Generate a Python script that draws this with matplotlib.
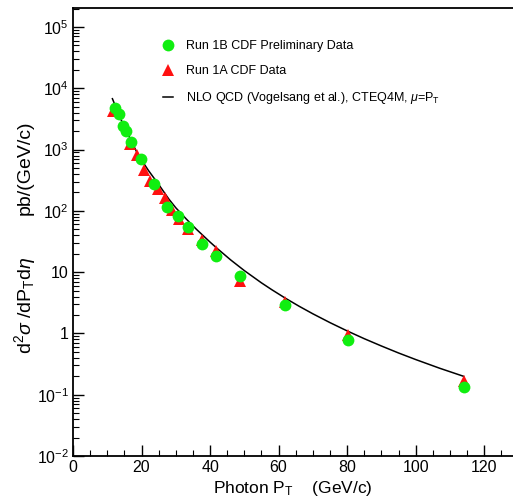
import matplotlib
matplotlib.use("Agg")
import matplotlib.pyplot as plt
from matplotlib.ticker import FixedLocator, FixedFormatter, MultipleLocator, NullFormatter
import numpy as np

plt.rcParams['font.family'] = ['Liberation Sans', 'DejaVu Sans']
plt.rcParams['mathtext.fontset'] = 'custom'
plt.rcParams['mathtext.rm'] = 'Liberation Sans'
plt.rcParams['mathtext.it'] = 'Liberation Sans:italic'
plt.rcParams['mathtext.bf'] = 'Liberation Sans:bold'

# Run 1B CDF Preliminary Data
run1b_pt = [12.4, 13.4, 14.5, 15.4, 16.8, 19.7, 23.6, 27.5, 30.7, 33.7, 37.7, 41.7, 48.6, 62.0, 80.2, 114.0]
run1b_xs = [4800, 3800, 2400, 2000, 1340, 690, 275, 117, 81, 54, 29, 18.2, 8.7, 2.95, 0.79, 0.136]

# Run 1A CDF Data
run1a_pt = [11.6, 16.5, 18.8, 20.8, 22.6, 24.7, 26.8, 28.8, 30.8, 33.7, 37.6, 41.7, 48.6, 62.0, 80.2, 114.0]
run1a_xs = [4300, 1250, 830, 460, 310, 224, 162, 105, 74, 50, 33, 22, 7.2, 3.2, 0.95, 0.166]

# NLO QCD theory curve (log10 of cross section)
nlo_pt = [11.5, 14, 17, 18.6, 20, 22, 25, 28, 30, 33, 36, 40, 42, 46, 50, 55, 58, 62, 66, 70, 75, 80, 85, 90, 95, 100, 107, 114]
nlo_log = [3.83, 3.49, 3.14, 2.96, 2.83, 2.66, 2.43, 2.19, 2.05, 1.87, 1.70, 1.49, 1.39, 1.20, 1.025, 0.825, 0.714, 0.574,
           0.443, 0.320, 0.176, 0.041, -0.086, -0.205, -0.319, -0.426, -0.568, -0.700]
nlo_xs = [10 ** v for v in nlo_log]

ytick_vals = [1e-2, 1e-1, 1, 10, 1e2, 1e3, 1e4, 1e5]
ytick_labels = [r'$10^{-2}$', r'$10^{-1}$', '1', '10', r'$10^{2}$', r'$10^{3}$', r'$10^{4}$', r'$10^{5}$']
xtick_vals = [0, 20, 40, 60, 80, 100, 120]

fig = plt.figure(figsize=(5.13, 5.01), dpi=100)
ax = fig.add_axes([73/513, 1 - 456/501, 1 - 73/513, (456 - 8)/501])

ax.plot(nlo_pt, nlo_xs, color='black', lw=1.1, zorder=2,
        label=r'NLO QCD (Vogelsang et al.), CTEQ4M, $\mu$=P$_{\rm T}$')
ax.plot(run1a_pt, run1a_xs, linestyle='none', marker='^', color='#ff1010',
        markersize=8.5, markeredgewidth=0, zorder=3, label='Run 1A CDF Data')
ax.plot(run1b_pt, run1b_xs, linestyle='none', marker='o', color='#10ee10',
        markersize=8.5, markeredgewidth=0, zorder=4, label='Run 1B CDF Preliminary Data')

ax.set_yscale('log')
ax.set_xlim(0, 128.4)
ax.set_ylim(1e-2, 10 ** 5.31)

ax.yaxis.set_major_locator(FixedLocator(ytick_vals))
ax.yaxis.set_major_formatter(FixedFormatter(ytick_labels))
minors = [m * 10.0 ** e for e in range(-2, 6) for m in range(2, 10)]
ax.yaxis.set_minor_locator(FixedLocator(minors))
ax.yaxis.set_minor_formatter(NullFormatter())
ax.xaxis.set_major_locator(FixedLocator(xtick_vals))
ax.xaxis.set_minor_locator(MultipleLocator(5))

ax.tick_params(axis='both', which='major', direction='in', length=8, width=1, labelsize=11.5, pad=3)
ax.tick_params(axis='both', which='minor', direction='in', length=4, width=0.8)
ax.tick_params(axis='x', which='major', pad=3)
ax.tick_params(top=False, right=False)
for s in ['left', 'bottom', 'top']:
    ax.spines[s].set_linewidth(1.3)
ax.spines['right'].set_visible(False)

ax.set_xlabel(r'Photon P$_{\rm T}$    (GeV/c)', fontsize=12.5)
ax.xaxis.set_label_coords(0.5, -0.052)

fig.text(25/513, 1 - 168/501, 'pb/(GeV/c)', rotation=90, fontsize=14, ha='center', va='center')
fig.text(25/513, 1 - 305/501, r'd$^{2}\sigma$ /dP$_{\rm T}$d$\eta$', rotation=90, fontsize=14, ha='center', va='center')

handles, labels = ax.get_legend_handles_labels()
order = [2, 1, 0]
leg = ax.legend([handles[i] for i in order], [labels[i] for i in order],
                loc='upper left', bbox_to_anchor=((163 - 73)/440, (456 - 40)/448),
                frameon=False, fontsize=9, borderpad=0, borderaxespad=0,
                handlelength=0.8, handletextpad=1.0, labelspacing=1.05)

fig.savefig('out.png', dpi=100)
